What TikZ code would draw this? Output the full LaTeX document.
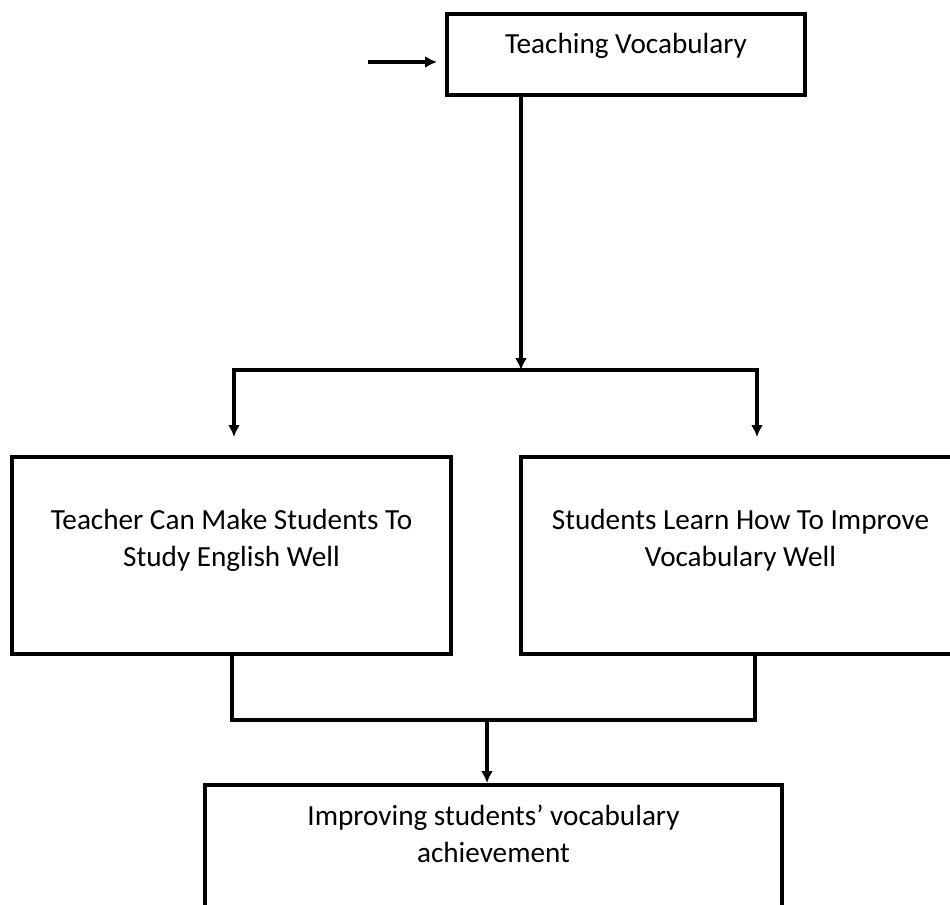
\documentclass[tikz,border=0pt]{standalone}
\usepackage{fontspec}
\setmainfont{Carlito}
\usetikzlibrary{arrows.meta}

\begin{document}
\begin{tikzpicture}[x=0.5pt, y=-0.5pt,
    box/.style={draw, line width=2pt, align=center, inner xsep=0pt,
      font=\fontsize{14.6}{18.5}\selectfont},
    freccia/.style={line width=1.6pt, -{Latex[length=6pt,width=6pt]}},
    ramo/.style={line width=1.6pt, {Latex[length=6pt,width=6pt]}-{Latex[length=6pt,width=6pt]}},
    linea/.style={line width=1.6pt}]
              \useasboundingbox (0,0) rectangle (950,905);

              \node [box, anchor=north, minimum width=179pt, minimum height=40.5pt, inner ysep=9.7pt, text depth=10.8pt] (vocab) at (626,12) {Teaching Vocabulary};
              \node [box, anchor=north, minimum width=219.5pt, minimum height=98.5pt, inner ysep=26.2pt, text depth=17.3pt] (teacher) at (231.5,455) {Teacher Can Make Students To\\Study English Well};
              \node [box, anchor=north, minimum width=219.5pt, minimum height=98.5pt, inner ysep=26.2pt, text depth=17.3pt] (students) at (740.5,455) {Students Learn How To Improve\\Vocabulary Well};
              \node [box, anchor=north, minimum width=288.5pt, minimum height=78.5pt, inner ysep=10pt, text depth=31.5pt] (result) at (493.5,783) {Improving students’ vocabulary\\achievement};

              \coordinate (in) at (368,62);
              \coordinate (split) at (521,370);
              \coordinate (splitsx) at (234,370);
              \coordinate (splitdx) at (757,370);
              \coordinate (tipsx) at (234,437);
              \coordinate (tipdx) at (757,437);
              \coordinate (joinsx) at (232,720);
              \coordinate (joindx) at (755,720);
              \coordinate (join) at (487,720);

              \draw [freccia, line width=2pt, shorten >=4pt] (in) -- (in -| vocab.west);
              \draw [freccia] (split |- vocab.south) -- (split);
              \draw [ramo] (tipsx) -- (splitsx) -- (splitdx) -- (tipdx);
              \draw [linea] (joinsx |- teacher.south) -- (joinsx) -- (joindx) -- (joindx |- students.south);
              \draw [freccia] (join) -- (join |- result.north);

\end{tikzpicture}
\end{document}
